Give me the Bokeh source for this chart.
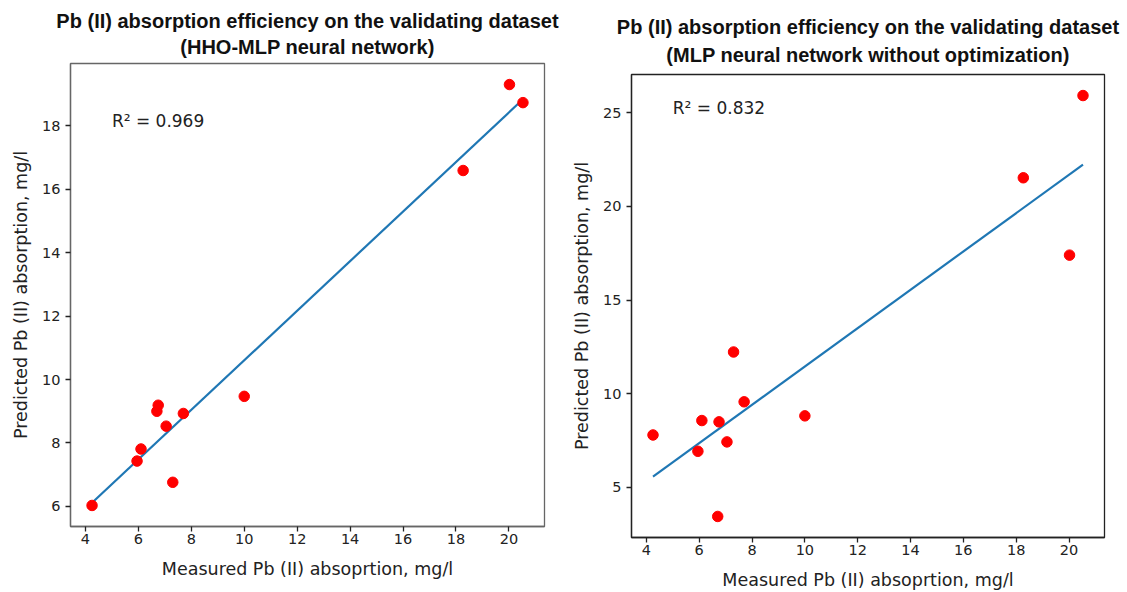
import numpy as np
from bokeh.plotting import figure
from bokeh.models import Range1d, FixedTicker, Label, Title, Spacer
from bokeh.layouts import row, column
from bokeh.embed import file_html
from bokeh.resources import INLINE

# ---- data ----
measured = [4.25, 5.95, 6.10, 6.70, 6.75, 7.05, 7.30, 7.70, 10.00, 18.27, 20.02, 20.53]
pred_hho_mlp = [6.03, 7.43, 7.81, 9.00, 9.19, 8.53, 6.76, 8.93, 9.47, 16.59, 19.30, 18.73]
pred_mlp = [7.80, 6.93, 8.57, 3.45, 8.50, 7.43, 12.23, 9.57, 8.82, 21.53, 17.40, 25.92]

x_ticks = [4, 6, 8, 10, 12, 14, 16, 18, 20]
y_ticks_left = [6, 8, 10, 12, 14, 16, 18]
y_ticks_right = [5, 10, 15, 20, 25]

title_left = ["Pb (II) absorption efficiency on the validating dataset",
              "(HHO-MLP neural network)"]
title_right = ["Pb (II) absorption efficiency on the validating dataset",
               "(MLP neural network without optimization)"]
r2_left = "R² = 0.969"
r2_right = "R² = 0.832"
r2_pos_left = (5, 18)
r2_pos_right = (5, 25)

x_label = "Measured Pb (II) absoprtion, mg/l"
y_label = "Predicted Pb (II) absorption, mg/l"


def padded(vals, frac=0.05):
    lo, hi = min(vals), max(vals)
    span = hi - lo
    return lo - frac * span, hi + frac * span


def make_panel(x, y, yticks, titles, r2, r2pos, width, height, borders,
               frame_color, title_gap):
    bl, br, bt, bb = borders
    x0, x1 = padded(x)
    y0, y1 = padded(y)
    p = figure(width=width, height=height, output_backend="svg",
               toolbar_location=None, x_range=Range1d(x0, x1),
               y_range=Range1d(y0, y1),
               min_border_left=bl, min_border_right=br,
               min_border_top=bt, min_border_bottom=bb)
    p.xgrid.visible = False
    p.ygrid.visible = False
    p.outline_line_color = frame_color
    p.outline_line_width = 1.3
    p.background_fill_color = "white"
    p.border_fill_color = "white"

    p.xaxis.ticker = FixedTicker(ticks=x_ticks)
    p.yaxis.ticker = FixedTicker(ticks=yticks)
    for ax in (p.xaxis[0], p.yaxis[0]):
        ax.axis_line_color = frame_color
        ax.axis_line_width = 1.3
        ax.major_tick_line_color = "#222222"
        ax.major_tick_line_width = 1.3
        ax.major_tick_out = 5
        ax.major_tick_in = 0
        ax.minor_tick_line_color = None
        ax.major_label_text_font = "DejaVu Sans"
        ax.major_label_text_font_size = "14.5px"
        ax.major_label_text_color = "#222222"
        ax.axis_label_text_font = "DejaVu Sans"
        ax.axis_label_text_font_size = "17.5px"
        ax.axis_label_text_font_style = "normal"
        ax.axis_label_text_color = "#222222"
    p.xaxis.major_label_standoff = 2
    p.yaxis.major_label_standoff = 5
    p.xaxis.axis_label_standoff = 12
    p.yaxis.axis_label_standoff = 8
    p.xaxis.axis_label = x_label
    p.yaxis.axis_label = y_label

    # regression line (least squares of predicted vs measured)
    coef = np.polyfit(np.array(x), np.array(y), 1)
    xs = np.array([min(x), max(x)])
    p.line(xs, np.polyval(coef, xs), line_color="#1f77b4", line_width=2.2)
    p.scatter(x, y, size=10.5, fill_color="#ff0000", line_color="#ff0000")

    p.add_layout(Label(x=r2pos[0], y=r2pos[1], text=r2, y_offset=5,
                       text_font="DejaVu Sans", text_font_size="17px",
                       text_color="#222222", text_baseline="alphabetic"))

    title_style = dict(align="center", text_font="Liberation Sans",
                       text_font_style="bold", text_font_size="20px",
                       text_color="#111111")
    # second line sits next to the frame, first line above it
    p.add_layout(Title(text=titles[1], standoff=title_gap, vertical_align="top",
                       **title_style), "above")
    p.add_layout(Title(text=titles[0], standoff=0, vertical_align="bottom",
                       **title_style), "above")
    return p


left = make_panel(measured, pred_hho_mlp, y_ticks_left, title_left, r2_left,
                  r2_pos_left, 569, 592, (70, 25, 63, 66), "#666666", 8)
right = make_panel(measured, pred_mlp, y_ticks_right, title_right, r2_right,
                   r2_pos_right, 558, 581, (58, 23, 63, 55), "#222222", 13)

layout = row(column(left), column(Spacer(width=558, height=11), right))
open("out.html", "w").write(file_html(layout, INLINE))
